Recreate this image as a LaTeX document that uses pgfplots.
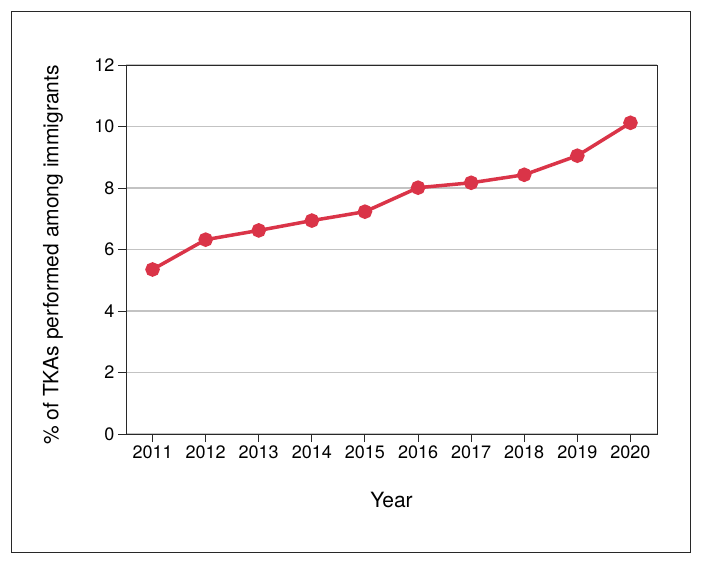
\documentclass[border=0pt]{standalone}
\usepackage{pgfplots}
\pgfplotsset{compat=1.18}
\usepackage{fontspec}
\setmainfont{TeX Gyre Heros}
\definecolor{linered}{RGB}{218,52,72}
\definecolor{gridgray}{RGB}{195,195,195}
\definecolor{axgray}{RGB}{40,40,40}
\begin{document}
\begin{tikzpicture}
\useasboundingbox (-126pt,-130pt) rectangle (577pt,434pt);
\draw[axgray, line width=1pt] (-114pt,-118pt) rectangle (564pt,422pt);
\begin{axis}[
  at={(0,0)}, anchor=south west,
  scale only axis, width=531pt, height=369pt,
  xmin=2010.5, xmax=2020.5, ymin=0, ymax=12,
  xtick={2011,...,2020}, ytick={0,2,...,12},
  ymajorgrids, grid style={gridgray, line width=1.3pt},
  tick align=outside, tick pos=left, major tick length=8pt,
  axis line style={axgray, line width=0.9pt},
  every tick/.style={axgray, line width=0.9pt},
  /pgf/number format/assume math mode=true,
  x tick label style={/pgf/number format/1000 sep={}},
  tick label style={font=\fontsize{18}{21}\selectfont},
  label style={font=\fontsize{21}{24}\selectfont},
  xlabel={Year},
  ylabel={\% of TKAs performed among immigrants},
  xlabel style={at={(axis description cs:0.5,-0.179)}, anchor=center},
  ylabel style={at={(axis description cs:-0.1375,0.485)}, anchor=center},
]
\addplot[linered, line width=3.5pt, mark=*, mark size=5.5pt, mark options={draw=none, fill=linered}] coordinates {
(2011,5.35) (2012,6.32) (2013,6.62) (2014,6.94) (2015,7.23)
(2016,8.01) (2017,8.17) (2018,8.43) (2019,9.05) (2020,10.12)
};
\end{axis}
\end{tikzpicture}
\end{document}
